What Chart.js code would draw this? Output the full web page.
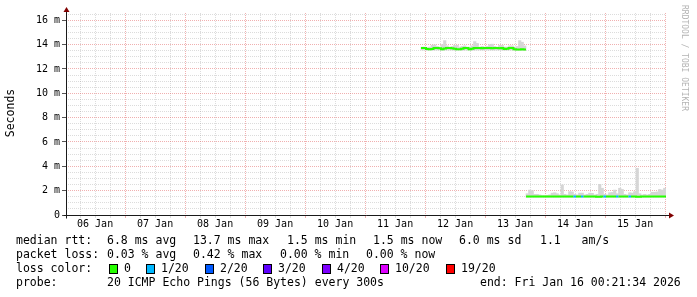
<!DOCTYPE html>
<html>
<head>
<meta charset="utf-8">
<script src="https://cdn.jsdelivr.net/npm/chart.js@4.4.1/dist/chart.umd.min.js"></script>
<style>
  html, body { margin: 0; padding: 0; background: #fff; }
  canvas { display: block; }
</style>
</head>
<body>
<canvas id="graficaPing" width="697" height="297"></canvas>
<script>
// ---- datos (10 dias, hasta Fri Jan 16 00:21:34 2026) ----
const horasTotales = 240;
const minutoInicio = 21 + 34 / 60;          // la ventana empieza a las 00:21:34
const etiquetasDia = ['06 Jan', '07 Jan', '08 Jan', '09 Jan', '10 Jan',
                      '11 Jan', '12 Jan', '13 Jan', '14 Jan', '15 Jan'];

const primeraHora = 142;                     // primera hora con datos
// mediana del rtt por hora (ms)
const medianaMs = [
  13.72, 13.72, 13.65, 13.62, 13.65, 13.72, 13.72, 13.70, 13.62, 13.68,
  13.72, 13.72, 13.70, 13.66, 13.62, 13.62, 13.66, 13.72, 13.72, 13.63,
  13.66, 13.72, 13.72, 13.72, 13.70, 13.72, 13.72, 13.72, 13.70, 13.72,
  13.72, 13.70, 13.72, 13.64, 13.66, 13.72, 13.72, 13.62, 13.60, 13.60,
  13.62, 13.60,
  1.52, 1.52, 1.52, 1.52, 1.52, 1.52, 1.52, 1.52, 1.52, 1.52,
  1.52, 1.52, 1.52, 1.52, 1.52, 1.52, 1.52, 1.52, 1.52, 1.52,
  1.52, 1.52, 1.52, 1.52, 1.52, 1.52, 1.52, 1.52, 1.50, 1.50,
  1.52, 1.52, 1.52, 1.52, 1.52, 1.52, 1.52, 1.52, 1.52, 1.52,
  1.52, 1.52, 1.52, 1.52, 1.50, 1.50, 1.52, 1.52, 1.52, 1.52,
  1.52, 1.52, 1.52, 1.52, 1.52, 1.52
];
// humo: ping mas rapido y mas lento de cada hora (ms)
const humoMinMs = [
  13.56, 13.56, 13.55, 13.55, 13.56, 13.56, 13.56, 13.56, 13.55, 13.56,
  13.56, 13.56, 13.56, 13.55, 13.55, 13.55, 13.55, 13.56, 13.56, 13.55,
  13.55, 13.56, 13.56, 13.56, 13.56, 13.56, 13.56, 13.56, 13.56, 13.56,
  13.56, 13.56, 13.56, 13.55, 13.55, 13.56, 13.56, 13.55, 13.54, 13.54,
  13.55, 13.54,
  1.46, 1.46, 1.46, 1.46, 1.46, 1.46, 1.46, 1.46, 1.46, 1.46,
  1.46, 1.46, 1.46, 1.46, 1.46, 1.46, 1.46, 1.46, 1.46, 1.46,
  1.46, 1.46, 1.46, 1.46, 1.46, 1.46, 1.46, 1.46, 1.45, 1.45,
  1.46, 1.46, 1.46, 1.46, 1.46, 1.46, 1.46, 1.46, 1.46, 1.46,
  1.46, 1.46, 1.46, 1.46, 1.45, 1.45, 1.46, 1.46, 1.46, 1.46,
  1.46, 1.46, 1.46, 1.46, 1.46, 1.46
];
const humoMaxMs = [
  13.80, 13.80, 13.78, 13.80, 13.95, 13.98, 13.85, 13.80, 14.00, 14.33,
  13.90, 13.80, 13.85, 13.95, 13.95, 13.80, 13.85, 13.90, 13.80, 13.80,
  13.90, 14.25, 14.10, 13.80, 13.85, 13.80, 13.85, 14.00, 14.04, 13.85,
  13.80, 13.95, 13.95, 13.80, 13.80, 13.90, 13.90, 13.80, 13.85, 14.33,
  14.20, 13.90,
  1.75, 2.05, 2.00, 1.70, 1.70, 1.65, 1.60, 1.60, 1.62, 1.65,
  1.80, 1.83, 1.75, 1.65, 2.47, 1.70, 1.65, 1.92, 1.90, 1.70,
  1.65, 1.80, 1.80, 1.65, 1.70, 1.80, 1.78, 1.65, 1.70, 2.52,
  2.20, 1.70, 1.65, 1.83, 1.85, 2.05, 1.75, 2.20, 2.10, 1.70,
  1.65, 1.83, 1.80, 1.92, 3.84, 1.75, 1.65, 1.70, 1.65, 1.70,
  1.87, 1.87, 1.90, 2.10, 2.05, 2.20
];
// pings perdidos (de 20) en cada hora
const pingsPerdidos = [
  0, 0, 0, 0, 0, 0, 0, 0, 0, 0, 0, 0, 0, 0, 0, 0, 0, 0, 0, 0,
  0, 0, 0, 0, 0, 0, 0, 0, 0, 0, 0, 0, 0, 0, 0, 0, 0, 0, 0, 0,
  0, 0,
  0, 0, 0, 0, 0, 0, 0, 0, 0, 0, 0, 0, 0, 0, 0, 0, 0, 0, 0, 1,
  0, 0, 1, 0, 0, 0, 0, 0, 0, 0, 0, 1, 0, 0, 0, 0, 1, 0, 0, 0,
  0, 1, 0, 0, 0, 0, 0, 0, 0, 0, 0, 0, 0, 0
];

const pasosPerdida = [0, 1, 2, 3, 4, 10, 19];
const coloresPerdida = ['#26ff00', '#00b8ff', '#0059ff', '#5e00ff', '#7e00ff', '#dd00ff', '#ff0000'];
const etiquetasPerdida = ['0', '1/20', '2/20', '3/20', '4/20', '10/20', '19/20'];

const resumenRtt = ['6.8 ms avg', '13.7 ms max', '1.5 ms min', '1.5 ms now', '6.0 ms sd', '1.1   am/s'];
const resumenPerdida = ['0.03 % avg', '0.42 % max', '0.00 % min', '0.00 % now'];
const textoSonda = '20 ICMP Echo Pings (56 Bytes) every 300s';
const textoFin = 'end: Fri Jan 16 00:21:34 2026';

// ---- estilos ----
const mono = "'DejaVu Sans Mono', monospace";
const colorRejilla = 'rgba(140,140,140,0.3)';
const colorRejillaMayor = 'rgba(222,80,80,0.45)';

function colorPorPerdida(n) {
  let c = coloresPerdida[0];
  for (let k = 0; k < pasosPerdida.length; k++) {
    if (n >= pasosPerdida[k]) c = coloresPerdida[k];
  }
  return c;
}

// puntos para chart.js
const puntosMediana = [];
const puntosHumo = [];
for (let i = 0; i < medianaMs.length; i++) {
  const h = primeraHora + i;
  if (i > 0 && Math.abs(medianaMs[i] - medianaMs[i - 1]) > 3) {
    // corte entre los dos tramos, sin linea vertical
    puntosMediana.push({x: h, y: medianaMs[i - 1], perdida: pingsPerdidos[i - 1]});
    puntosMediana.push({x: h, y: null});
  }
  puntosMediana.push({x: h, y: medianaMs[i], perdida: pingsPerdidos[i]});
  puntosHumo.push({x: h + 0.5, y: [humoMinMs[i], humoMaxMs[i]]});
}
const ultimo = medianaMs.length - 1;
puntosMediana.push({x: primeraHora + medianaMs.length, y: medianaMs[ultimo], perdida: pingsPerdidos[ultimo]});

// marcas del eje x cada 6 horas de reloj
const marcasX = [];
for (let d = 0; d <= 10; d++) {
  for (const hh of [0, 6, 12, 18]) {
    const v = d * 24 + hh - minutoInicio / 60;
    if (v >= 0 && v <= horasTotales) marcasX.push(v);
  }
}
function horaDeReloj(v) {
  return Math.round(v + minutoInicio / 60) % 24;
}
const marcasY = [];
for (let v = 0; v <= 16.5; v += 0.5) marcasY.push(v);

const adornos = {
  id: 'adornos',
  afterDraw(chart) {
    const c = chart.ctx;
    const a = chart.chartArea;
    const x0 = Math.round(a.left) + 0.5;
    const y0 = Math.round(a.bottom) + 0.5;
    c.save();
    c.setLineDash([]);
    c.strokeStyle = '#1a1a1a';
    c.lineWidth = 1;
    c.beginPath();
    c.moveTo(x0, a.top - 2);
    c.lineTo(x0, y0 + 3);
    c.moveTo(x0 - 3, y0);
    c.lineTo(a.right + 4, y0);
    c.stroke();

    // flechas
    c.fillStyle = '#800000';
    c.beginPath();
    c.moveTo(x0, a.top - 6);
    c.lineTo(x0 - 3, a.top - 1);
    c.lineTo(x0 + 3, a.top - 1);
    c.closePath();
    c.fill();
    c.beginPath();
    c.moveTo(a.right + 8, y0);
    c.lineTo(a.right + 3, y0 - 3);
    c.lineTo(a.right + 3, y0 + 3);
    c.closePath();
    c.fill();

    // titulo vertical
    c.fillStyle = '#000';
    c.font = '11.5px ' + mono;
    c.textAlign = 'center';
    c.textBaseline = 'middle';
    c.save();
    c.translate(11, 113);
    c.rotate(-Math.PI / 2);
    c.fillText('Seconds', 0, 0);
    c.restore();

    // marca de agua
    c.save();
    c.fillStyle = '#b4b4b4';
    c.font = '8px ' + mono;
    c.textAlign = 'left';
    c.translate(684, 5);
    c.rotate(Math.PI / 2);
    c.fillText('RRDTOOL / TOBI OETIKER', 0, 0);
    c.restore();

    // leyenda
    c.font = '11.5px ' + mono;
    c.textAlign = 'left';
    c.fillStyle = '#000';
    const fila = [241, 255, 269, 283];
    c.fillText('median rtt:', 16, fila[0]);
    const xRtt = [107, 193, 287, 373, 459, 540];
    resumenRtt.forEach((t, k) => c.fillText(t, xRtt[k], fila[0]));
    c.fillText('packet loss:', 16, fila[1]);
    const xPer = [107, 193, 280, 366];
    resumenPerdida.forEach((t, k) => c.fillText(t, xPer[k], fila[1]));
    c.fillText('loss color:', 16, fila[2]);
    const xCaja = [108.5, 146, 204.5, 263, 321.5, 380, 445.5];
    etiquetasPerdida.forEach((t, k) => {
      const bx = Math.round(xCaja[k]);
      c.fillStyle = '#000';
      c.fillRect(bx, fila[2] - 5, 9, 10);
      c.fillStyle = coloresPerdida[k];
      c.fillRect(bx + 1, fila[2] - 4, 7, 8);
      c.fillStyle = '#000';
      c.fillText(t, bx + 15, fila[2]);
    });
    c.fillText('probe:', 16, fila[3]);
    c.fillText(textoSonda, 107, fila[3]);
    c.fillText(textoFin, 480, fila[3]);
    c.restore();
  }
};

new Chart(document.getElementById('graficaPing'), {
  type: 'bar',
  data: {
    datasets: [
      {
        type: 'line',
        data: puntosMediana,
        stepped: true,
        borderWidth: 2,
        borderColor: coloresPerdida[0],
        pointRadius: 0,
        spanGaps: false,
        order: 0,
        segment: {
          borderColor: ctx => colorPorPerdida(puntosMediana[ctx.p0DataIndex].perdida || 0)
        }
      },
      {
        type: 'bar',
        data: puntosHumo,
        backgroundColor: '#d6d6d6',
        borderWidth: 0,
        barPercentage: 1,
        categoryPercentage: 1,
        order: 1
      }
    ]
  },
  options: {
    responsive: false,
    animation: false,
    layout: { padding: { top: 13, right: 31, left: 0, bottom: 0 } },
    plugins: { legend: { display: false }, tooltip: { enabled: false } },
    scales: {
      x: {
        type: 'linear',
        min: 0,
        max: horasTotales,
        offset: false,
        afterFit: s => { s.height = 82; },
        afterBuildTicks: s => { s.ticks = marcasX.map(v => ({value: v})); },
        ticks: {
          autoSkip: false,
          maxRotation: 0,
          padding: 0,
          color: '#000',
          font: { family: mono, size: 10 },
          callback: v => {
            if (horaDeReloj(v) !== 12) return '';
            const d = Math.floor((v + minutoInicio / 60) / 24);
            return etiquetasDia[d];
          }
        },
        grid: {
          offset: false,
          color: c => horaDeReloj(c.tick.value) === 0 ? colorRejillaMayor : colorRejilla,
          tickColor: c => horaDeReloj(c.tick.value) === 0 ? colorRejillaMayor : colorRejilla,
          tickLength: 3
        },
        border: { display: false, dash: [1, 1] }
      },
      y: {
        min: 0,
        max: 16.6,
        afterFit: s => { s.width = 66; },
        afterBuildTicks: s => { s.ticks = marcasY.map(v => ({value: v})); },
        ticks: {
          autoSkip: false,
          padding: 2,
          color: '#000',
          font: { family: mono, size: 10 },
          callback: v => (v % 2 !== 0) ? '' : (v === 0 ? '0' : v + ' m')
        },
        grid: {
          color: c => c.tick.value % 2 === 0 ? colorRejillaMayor : colorRejilla,
          tickColor: c => c.tick.value % 2 === 0 ? '#555' : 'rgba(0,0,0,0)',
          tickLength: 4
        },
        border: { display: false, dash: [1, 1] }
      }
    }
  },
  plugins: [adornos]
});
</script>
</body>
</html>
